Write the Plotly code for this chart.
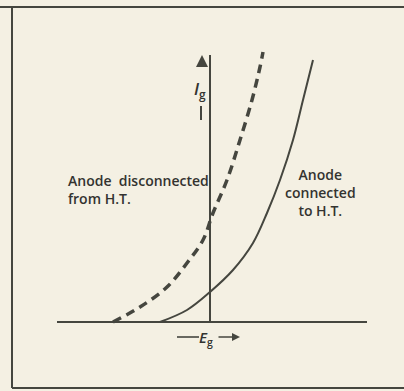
import plotly.graph_objects as go

INK = "#45463f"
PAPER = "#f4f0e3"

# grid voltage / grid current, arbitrary units (origin at the axes crossing)
eg_disconnected = [-97, -70, -43, -23, -7, 3, 17, 30, 42, 50, 53]
ig_disconnected = [0, 15, 35, 59, 82, 109, 142, 182, 222, 255, 270]

eg_connected = [-50, -23, 0, 23, 43, 57, 70, 83, 93, 103]
ig_connected = [0, 12, 30, 52, 79, 109, 142, 182, 222, 262]

eg_axis = [-153, 157]
ig_axis = [0, 267]

fig = go.Figure()

# axes
fig.add_trace(go.Scatter(x=eg_axis, y=[0, 0], mode="lines",
                         line=dict(color=INK, width=2), hoverinfo="skip"))
fig.add_trace(go.Scatter(x=[0, 0], y=ig_axis, mode="lines",
                         line=dict(color=INK, width=2), hoverinfo="skip"))

# curves
fig.add_trace(go.Scatter(x=eg_disconnected, y=ig_disconnected, mode="lines",
                         line=dict(color=INK, width=3.5, dash="9px,6px", shape="spline"),
                         name="Anode disconnected from H.T."))
fig.add_trace(go.Scatter(x=eg_connected, y=ig_connected, mode="lines",
                         line=dict(color=INK, width=2, shape="spline"),
                         name="Anode connected to H.T."))

font = dict(family="Open Sans, Arial", size=14, color="#333330", weight=600)

fig.add_annotation(x=-144, y=153, text="Anode&nbsp;&nbsp;disconnected<br>from H.T.",
                   showarrow=False, xanchor="left", yanchor="top", align="left", font=font)
fig.add_annotation(x=110, y=159, text="Anode<br>connected<br>to H.T.",
                   showarrow=False, xanchor="center", yanchor="top", align="center", font=font)

# I_g label with arrow
fig.add_annotation(x=-8, y=267, ax=-8, ay=254, axref="x", ayref="y", text="",
                   showarrow=True, arrowhead=2, arrowsize=1.2, arrowwidth=2, arrowcolor=INK)
fig.add_annotation(x=-10, y=233, text="<i>I</i><sub>g</sub>", showarrow=False,
                   font=dict(family="Open Sans, Arial", size=17, color="#333330", weight=600))
fig.add_trace(go.Scatter(x=[-9, -9], y=[202, 216], mode="lines",
                         line=dict(color=INK, width=2), hoverinfo="skip"))

# E_g label with arrow
fig.add_trace(go.Scatter(x=[-33, -11], y=[-15, -15], mode="lines",
                         line=dict(color=INK, width=1.6), hoverinfo="skip"))
fig.add_annotation(x=-4, y=-16, text="<i>E</i><sub>g</sub>", showarrow=False,
                   font=dict(family="Open Sans, Arial", size=15, color="#333330", weight=600))
fig.add_annotation(x=30, y=-15, ax=7, ay=-15, axref="x", ayref="y", text="",
                   showarrow=True, arrowhead=2, arrowsize=1, arrowwidth=1.6, arrowcolor=INK)

# frame
fig.add_shape(type="line", xref="paper", yref="paper", x0=12/404, x1=12/404,
              y0=1 - 7/391, y1=1 - 388/391, line=dict(color=INK, width=2))
fig.add_shape(type="line", xref="paper", yref="paper", x0=0, x1=1,
              y0=1 - 7/391, y1=1 - 7/391, line=dict(color=INK, width=2))
fig.add_shape(type="line", xref="paper", yref="paper", x0=12/404, x1=1,
              y0=1 - 388/391, y1=1 - 388/391, line=dict(color=INK, width=2))

fig.update_layout(
    width=404, height=391,
    margin=dict(t=0, b=0, l=0, r=0),
    paper_bgcolor=PAPER, plot_bgcolor=PAPER,
    showlegend=False,
    xaxis=dict(range=[-210, 194], visible=False, fixedrange=True),
    yaxis=dict(range=[-69, 322], visible=False, fixedrange=True),
)

fig.write_html("out.html", config={"displayModeBar": False},
               post_script="document.body.style.margin='0';")
